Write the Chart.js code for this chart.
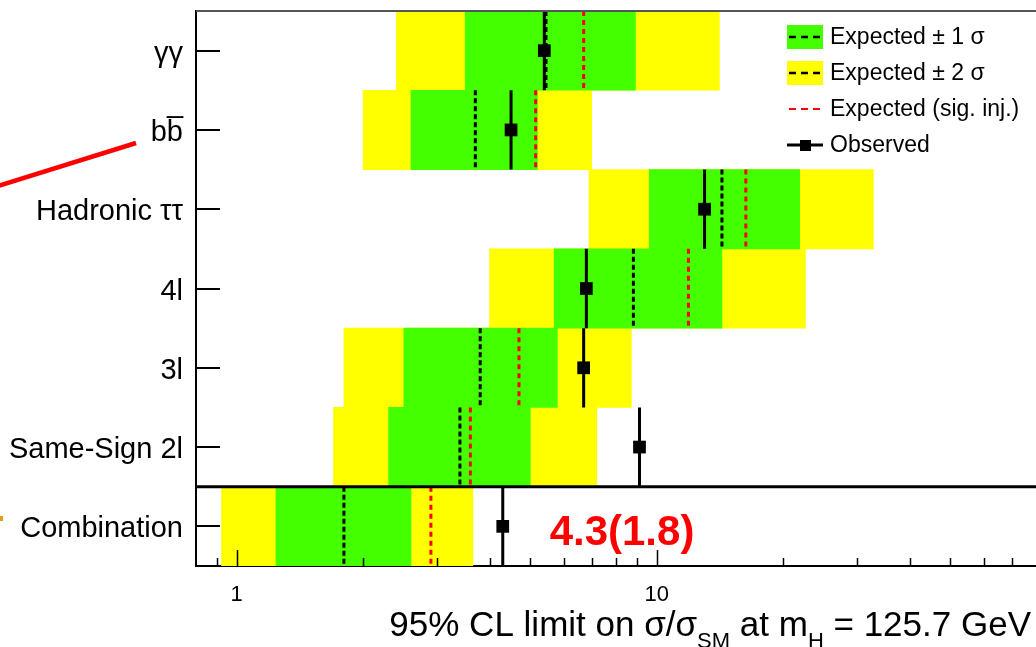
<!DOCTYPE html>
<html>
<head>
<meta charset="utf-8">
<title>ttH limits</title>
<script src="https://cdn.jsdelivr.net/npm/chart.js@4.4.1/dist/chart.umd.min.js"></script>
<style>
  html, body { margin: 0; padding: 0; background: #fff; overflow: hidden; }
  .chart-box { position: relative; width: 1036px; height: 647px; }
</style>
</head>
<body>
<div class="chart-box"><canvas id="limits"></canvas></div>
<script>
//channels, top to bottom
const channels = ['γγ', 'bb\u0305', 'Hadronic ττ', '4l', '3l', 'Same-Sign 2l', 'Combination'];

//95% CL upper limits on sigma/sigma_SM
const observed = [5.4, 4.5, 13.0, 6.8, 6.7, 9.1, 4.3];
const expected = [5.45, 3.7, 14.3, 8.8, 3.8, 3.4, 1.8];
const expectedSigInj = [6.7, 5.15, 16.3, 11.9, 4.7, 3.6, 2.9];
const oneSigmaLow = [3.5, 2.6, 9.6, 5.7, 2.5, 2.3, 1.24];
const oneSigmaHigh = [8.9, 5.2, 21.9, 14.3, 5.8, 5.0, 2.6];
const twoSigmaLow = [2.4, 2.0, 6.9, 4.0, 1.8, 1.7, 0.92];
const twoSigmaHigh = [14.1, 7.0, 32.8, 22.6, 8.7, 7.2, 3.65];

//x axis ticks, only decades get a label
const xTicks = [0.9, 1, 2, 3, 4, 5, 6, 7, 8, 9, 10, 20, 30, 40, 50, 60, 70];
const xTickLabels = [1, 10];

const FONT = "'Liberation Sans', Arial, Helvetica, sans-serif";
const GREEN = '#43ff00';
const YELLOW = '#ffff00';
const RED = '#ff0000';

//floating bar for every channel row
const band = (lo, hi) => channels.map((c, i) => ({ y: i, x: [lo[i], hi[i]] }));

//vertical segment over the full row height, rows split by empty points
const rowLines = (vals, withMid) => {
  const pts = [];
  vals.forEach((v, i) => {
    pts.push({ x: v, y: i - 0.5 });
    if (withMid) pts.push({ x: v, y: i });
    pts.push({ x: v, y: i + 0.5 });
    pts.push({ x: null, y: null });
  });
  return pts;
};

//ticks inside the frame, separator, legend, axis title
const framePlugin = {
  id: 'frame',
  afterDraw(chart) {
    const ctx = chart.ctx;
    const area = chart.chartArea;
    const xs = chart.scales.x;
    const ys = chart.scales.y;
    ctx.save();

    //top frame line
    ctx.strokeStyle = '#555';
    ctx.lineWidth = 2;
    ctx.beginPath();
    ctx.moveTo(area.left, area.top);
    ctx.lineTo(area.right, area.top);
    ctx.stroke();

    //x ticks pointing up
    ctx.strokeStyle = '#000';
    ctx.lineWidth = 1.5;
    xs.ticks.forEach(t => {
      const px = Math.round(xs.getPixelForValue(t.value)) + 0.5;
      const len = xTickLabels.includes(t.value) ? 16 : 8;
      ctx.beginPath();
      ctx.moveTo(px, area.bottom);
      ctx.lineTo(px, area.bottom - len);
      ctx.stroke();
    });

    //y ticks pointing right
    ctx.lineWidth = 2;
    ys.ticks.forEach(t => {
      const py = Math.round(ys.getPixelForValue(t.value));
      ctx.beginPath();
      ctx.moveTo(area.left, py);
      ctx.lineTo(area.left + 24, py);
      ctx.stroke();
    });

    //line between channels and combination
    const sep = ys.getPixelForValue(channels.length - 1.5);
    ctx.lineWidth = 3;
    ctx.beginPath();
    ctx.moveTo(area.left, sep);
    ctx.lineTo(area.right, sep);
    ctx.stroke();

    //combined result label
    const last = channels.length - 1;
    ctx.fillStyle = RED;
    ctx.font = 'bold 42px ' + FONT;
    ctx.textAlign = 'left';
    ctx.textBaseline = 'alphabetic';
    ctx.fillText(observed[last].toFixed(1) + '(' + expected[last].toFixed(1) + ')',
      xs.getPixelForValue(5.56), ys.getPixelForValue(last) + 19);

    //legend
    const lx = area.right - 249;
    const rowH = 36;
    const ds = chart.data.datasets;
    const items = [ds[0], ds[1], ds[3], ds[4]];
    ctx.font = '23px ' + FONT;
    ctx.textBaseline = 'middle';
    items.forEach((d, k) => {
      const cy = area.top + 26 + k * rowH;
      if (d.legendBox) {
        ctx.fillStyle = d.backgroundColor;
        ctx.fillRect(lx, cy - 12, 36, 24);
        ctx.strokeStyle = '#000';
        ctx.lineWidth = 2.5;
        ctx.setLineDash([7, 5]);
        ctx.beginPath();
        ctx.moveTo(lx + 2, cy);
        ctx.lineTo(lx + 34, cy);
        ctx.stroke();
        ctx.setLineDash([]);
      } else if (d.pointStyle) {
        ctx.strokeStyle = d.borderColor;
        ctx.lineWidth = 3;
        ctx.beginPath();
        ctx.moveTo(lx, cy);
        ctx.lineTo(lx + 36, cy);
        ctx.stroke();
        ctx.fillStyle = d.borderColor;
        ctx.fillRect(lx + 13, cy - 5, 11, 11);
      } else {
        ctx.strokeStyle = d.borderColor;
        ctx.lineWidth = 2;
        ctx.setLineDash([7, 5]);
        ctx.beginPath();
        ctx.moveTo(lx + 2, cy);
        ctx.lineTo(lx + 34, cy);
        ctx.stroke();
        ctx.setLineDash([]);
      }
      ctx.fillStyle = '#000';
      ctx.fillText(d.label, lx + 43, cy + 1);
    });

    //x axis title with subscripts
    const parts = [
      ['95% CL limit on ', false], ['σ/σ', false], ['SM', true],
      [' at m', false], ['H', true], [' = 125.7 GeV', false]
    ];
    const big = '35px ' + FONT, small = '22px ' + FONT;
    let total = 0;
    parts.forEach(p => { ctx.font = p[1] ? small : big; total += ctx.measureText(p[0]).width; });
    let tx = area.right - 5 - total;
    const base = area.bottom + 70;
    ctx.textBaseline = 'alphabetic';
    ctx.fillStyle = '#000';
    parts.forEach(p => {
      ctx.font = p[1] ? small : big;
      ctx.fillText(p[0], tx, p[1] ? base + 12 : base);
      tx += ctx.measureText(p[0]).width;
    });
    ctx.restore();
  },
  beforeDraw(chart) {
    //slide pointer and marker left of the plot
    const ctx = chart.ctx;
    ctx.save();
    ctx.strokeStyle = RED;
    ctx.lineWidth = 4.5;
    ctx.beginPath();
    ctx.moveTo(-2, 186);
    ctx.lineTo(136, 143);
    ctx.stroke();
    ctx.fillStyle = '#d9a21b';
    ctx.fillRect(0, 516, 3, 5);
    ctx.restore();
  }
};

const ctx = document.getElementById('limits');

new Chart(ctx, {
  type: 'bar',
  data: {
    datasets: [
      {
        label: 'Expected \u00b1 1 σ',
        data: band(oneSigmaLow, oneSigmaHigh),
        backgroundColor: GREEN,
        legendBox: true,
        order: 2
      },
      {
        label: 'Expected \u00b1 2 σ',
        data: band(twoSigmaLow, twoSigmaHigh),
        backgroundColor: YELLOW,
        legendBox: true,
        order: 3
      },
      {
        type: 'line',
        label: 'Expected',
        data: rowLines(expected, false),
        borderColor: '#000',
        borderWidth: 3,
        borderDash: [5, 3],
        pointRadius: 0,
        order: 1
      },
      {
        type: 'line',
        label: 'Expected (sig. inj.)',
        data: rowLines(expectedSigInj, false),
        borderColor: RED,
        borderWidth: 3,
        borderDash: [5, 4],
        pointRadius: 0,
        order: 1
      },
      {
        type: 'line',
        label: 'Observed',
        data: rowLines(observed, true),
        borderColor: '#000',
        borderWidth: 3,
        pointStyle: 'rect',
        pointRadius: c => (c.index % 4 === 1 ? 9 : 0),
        pointBackgroundColor: '#000',
        pointBorderWidth: 0,
        order: 0
      }
    ]
  },
  options: {
    indexAxis: 'y',
    responsive: true,
    maintainAspectRatio: false,
    animation: false,
    events: [],
    layout: { padding: { top: 11, right: 0, bottom: 0, left: 0 } },
    datasets: {
      bar: {
        grouped: false,
        barPercentage: 1,
        categoryPercentage: 1,
        borderWidth: 0,
        borderSkipped: false
      }
    },
    plugins: {
      legend: { display: false },
      tooltip: { enabled: false }
    },
    scales: {
      x: {
        type: 'logarithmic',
        min: 0.8,
        max: 80,
        offset: false,
        grid: { display: false, drawTicks: false },
        border: { display: true, color: '#000', width: 2 },
        afterBuildTicks: s => {
          s.ticks = xTicks.map(v => ({ value: v, major: xTickLabels.includes(v) }));
        },
        ticks: {
          autoSkip: false,
          maxRotation: 0,
          padding: 16,
          color: '#000',
          font: { family: FONT, size: 22 },
          callback: v => (xTickLabels.includes(v) ? String(v) : '')
        },
        afterFit: s => {
          s.height = 81;
          s.paddingLeft = 0;
          s.paddingRight = 0;
        }
      },
      y: {
        type: 'linear',
        reverse: true,
        offset: false,
        min: -0.5,
        max: channels.length - 0.5,
        grid: { display: false, drawTicks: false, offset: false },
        border: { display: true, color: '#000', width: 2 },
        afterBuildTicks: s => {
          s.ticks = channels.map((c, i) => ({ value: i }));
        },
        ticks: {
          autoSkip: false,
          padding: 13,
          labelOffset: 3,
          color: '#000',
          font: { family: FONT, size: 29 },
          callback: v => channels[v]
        },
        afterFit: s => {
          s.width = 196;
          s.paddingTop = 0;
          s.paddingBottom = 0;
        }
      }
    }
  },
  plugins: [framePlugin]
});
</script>
</body>
</html>
